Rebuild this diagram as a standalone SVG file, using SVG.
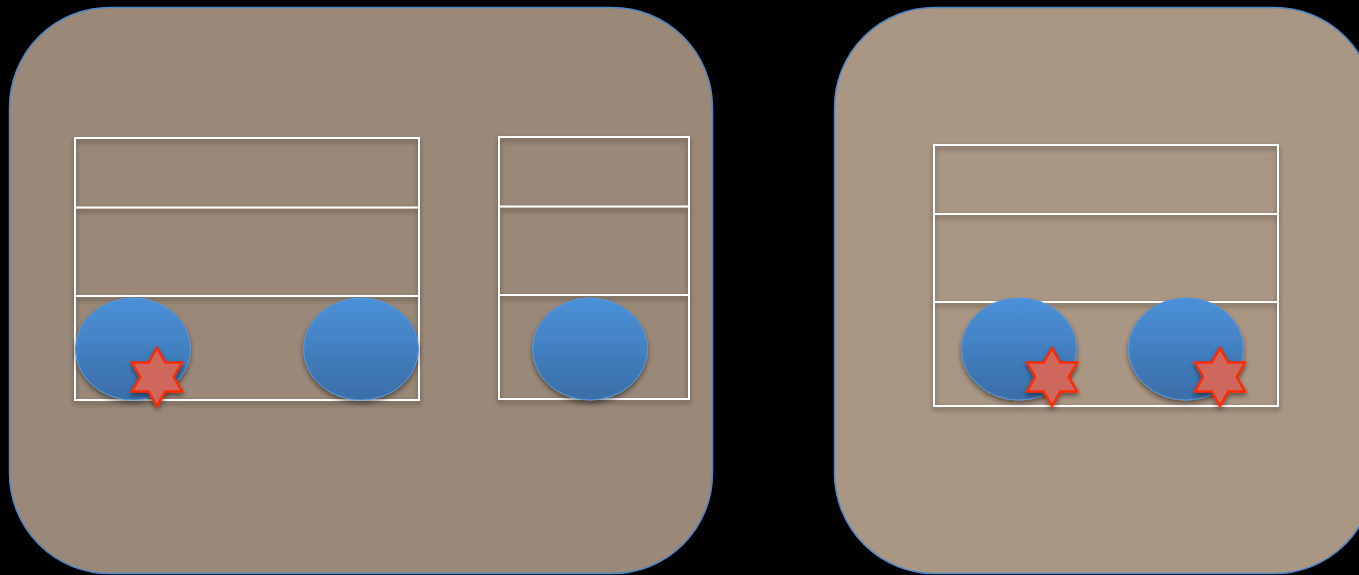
<svg xmlns="http://www.w3.org/2000/svg" width="1359" height="575" viewBox="0 0 1359 575">
<defs>
<linearGradient id="blue" x1="0" y1="0" x2="0" y2="1">
<stop offset="0" stop-color="#4b91d8"/>
<stop offset="1" stop-color="#3a6ea8"/>
</linearGradient>
<filter id="sh" x="-20%" y="-20%" width="140%" height="150%">
<feGaussianBlur in="SourceAlpha" stdDeviation="2.5"/>
<feOffset dx="0" dy="3" result="b"/>
<feComponentTransfer><feFuncA type="linear" slope="0.45"/></feComponentTransfer>
<feMerge><feMergeNode/><feMergeNode in="SourceGraphic"/></feMerge>
</filter>
<polygon id="star" points="0,-29 8.37,-14.5 25.11,-14.5 16.74,0 25.11,14.5 8.37,14.5 0,29 -8.37,14.5 -25.11,14.5 -16.74,0 -25.11,-14.5 -8.37,-14.5"/>
</defs>
<style>
.panel{stroke:#4f86c6;stroke-width:1.5}
.box{fill:none;stroke:#ffffff;stroke-width:2}
.ell{fill:url(#blue);stroke:#5b97d6;stroke-width:1}
.star{fill:#cf675b;stroke:#ff2a00;stroke-width:2.5;stroke-linejoin:miter}
</style>
<rect width="1359" height="575" fill="#000"/>
<g id="panel-left">
<rect class="panel" x="9.5" y="7.5" width="703" height="566" rx="100" ry="100" fill="#9a8878"/>
</g>
<g id="panel-right">
<rect class="panel" x="834.5" y="7.5" width="540" height="566" rx="100" ry="100" fill="#a99683"/>
</g>
<g id="table1" filter="url(#sh)">
<rect class="box" x="75" y="138" width="344" height="262"/>
<line class="box" x1="75" y1="207.5" x2="419" y2="207.5"/>
<line class="box" x1="75" y1="296" x2="419" y2="296"/>
</g>
<g id="table2" filter="url(#sh)">
<rect class="box" x="499" y="137" width="190" height="262"/>
<line class="box" x1="499" y1="206.5" x2="689" y2="206.5"/>
<line class="box" x1="499" y1="295" x2="689" y2="295"/>
</g>
<g id="table3" filter="url(#sh)">
<rect class="box" x="934" y="145" width="344" height="261"/>
<line class="box" x1="934" y1="214" x2="1278" y2="214"/>
<line class="box" x1="934" y1="302" x2="1278" y2="302"/>
</g>
<g id="ellipse1" filter="url(#sh)"><ellipse class="ell" cx="133" cy="349" rx="57.5" ry="51"/></g>
<g id="ellipse2" filter="url(#sh)"><ellipse class="ell" cx="361" cy="349" rx="57.5" ry="51"/></g>
<g id="ellipse3" filter="url(#sh)"><ellipse class="ell" cx="590" cy="349" rx="57.5" ry="51"/></g>
<g id="ellipse4" filter="url(#sh)"><ellipse class="ell" cx="1019" cy="349" rx="57.5" ry="51"/></g>
<g id="ellipse5" filter="url(#sh)"><ellipse class="ell" cx="1186" cy="349" rx="57.5" ry="51"/></g>
<g id="star1" filter="url(#sh)"><use href="#star" class="star" x="157" y="377"/></g>
<g id="star2" filter="url(#sh)"><use href="#star" class="star" x="1052" y="377"/></g>
<g id="star3" filter="url(#sh)"><use href="#star" class="star" x="1220" y="377"/></g>
<g id="connectors"></g>
</svg>
